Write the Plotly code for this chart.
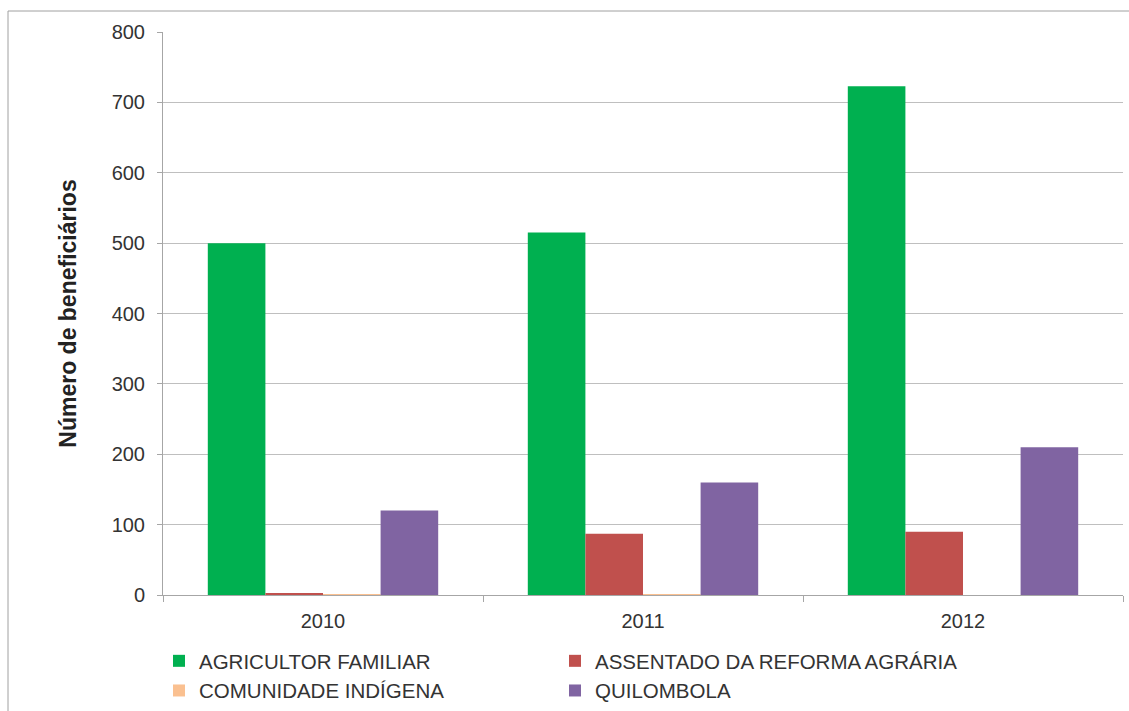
import plotly.graph_objects as go

years = ["2010", "2011", "2012"]
agricultor = [500, 515, 723]
assentado = [2, 87, 90]
indigena = [1, 1, 0]
quilombola = [120, 160, 210]

series_names = ["AGRICULTOR FAMILIAR", "ASSENTADO DA REFORMA AGRÁRIA",
                "COMUNIDADE INDÍGENA", "QUILOMBOLA"]
colors = ["#00B050", "#C0504D", "#FAC090", "#8064A2"]
legend_ids = ["legend", "legend2", "legend", "legend2"]
y_ticks = [0, 100, 200, 300, 400, 500, 600, 700, 800]

fig = go.Figure()
for name, vals, col, lg in zip(series_names, [agricultor, assentado, indigena, quilombola],
                               colors, legend_ids):
    fig.add_trace(go.Bar(x=years, y=vals, name=name, marker_color=col,
                         marker_line_width=0, legend=lg))

legend_common = dict(orientation="v", xref="paper", yref="container",
                     xanchor="left", y=1 - 641/711, yanchor="top",
                     font=dict(size=20.5, color="#333333"), traceorder="normal",
                     itemsizing="constant", tracegroupgap=0,
                     bgcolor="rgba(0,0,0,0)")

fig.update_layout(
    width=1129, height=711,
    margin=dict(l=163, r=6, t=32, b=116),
    paper_bgcolor="white", plot_bgcolor="white",
    barmode="group", bargap=0.28, bargroupgap=0,
    font=dict(family="Liberation Sans, Arial, sans-serif", size=20, color="#333333"),
    showlegend=True,
    legend=dict(x=(159 - 163)/960, **legend_common),
    legend2=dict(x=(555 - 163)/960, **legend_common),
    shapes=[dict(type="rect", xref="paper", yref="paper",
                 x0=-155/960, x1=1.05, y0=-1.0, y1=1 + 21/563,
                 line=dict(color="#A0A0A0", width=1), fillcolor="rgba(0,0,0,0)",
                 layer="below")],
)
fig.update_yaxes(range=[0, 800], tickvals=y_ticks, showgrid=True, gridcolor="#BFBFBF",
                 gridwidth=1, showline=True, linecolor="#A6A6A6", linewidth=1,
                 ticks="outside", ticklen=5, tickcolor="#A6A6A6",
                 ticklabelstandoff=8,
                 tickfont=dict(size=20, color="#333333"), zeroline=False,
                 title=dict(text="<b>Número de beneficiários</b>",
                            font=dict(size=23, color="#222222"), standoff=28))
fig.update_xaxes(showline=True, linecolor="#A6A6A6", linewidth=1,
                 ticks="outside", ticklen=6, tickcolor="#A6A6A6", tickson="boundaries",
                 ticklabelstandoff=8,
                 tickfont=dict(size=20, color="#333333"))

fig.write_html("out.html")
